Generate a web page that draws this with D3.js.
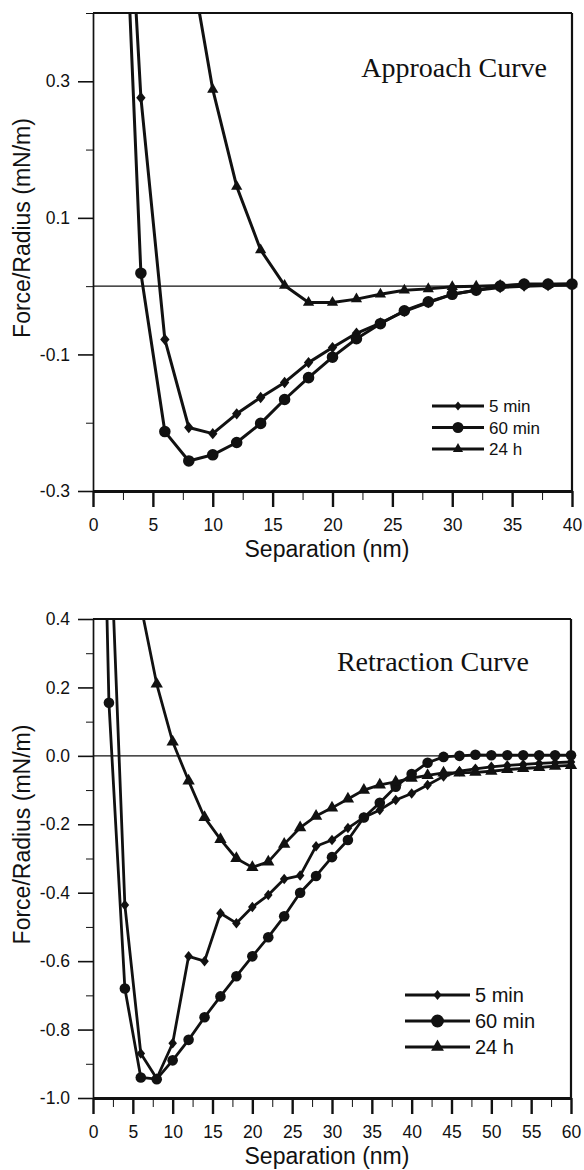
<!DOCTYPE html>
<html>
<head>
<meta charset="utf-8">
<script src="https://cdn.jsdelivr.net/npm/d3@7"></script>
<style>
    body { margin: 0; background: #fff; }
    svg text { font-family: "Liberation Sans", Arial, Helvetica, sans-serif; fill: #111; }
    .title { font-family: "Liberation Serif", "Times New Roman", serif !important; }
</style>
</head>
<body>
<div id="chart"></div>
<script>
// ---- approach curve (top panel) ----
var approachX5 = [2, 4, 6, 8, 10, 12, 14, 16, 18, 20, 22, 24, 26, 28, 30, 32, 34, 36, 38, 40];
var approach5min = [0.9, 0.276, -0.078, -0.207, -0.216, -0.187, -0.163, -0.141, -0.112, -0.090,
    -0.069, -0.054, -0.037, -0.024, -0.012, -0.006, -0.002, 0.000, 0.001, 0.002];
var approach60min = [0.85, 0.019, -0.213, -0.256, -0.247, -0.229, -0.201, -0.166, -0.134, -0.104,
    -0.077, -0.055, -0.036, -0.023, -0.012, -0.006, 0.000, 0.003, 0.003, 0.003];
var approachX24 = [8, 10, 12, 14, 16, 18, 20, 22, 24, 26, 28, 30, 32, 34, 36, 38, 40];
var approach24h = [0.49, 0.288, 0.146, 0.053, 0.001, -0.024, -0.024, -0.019, -0.012, -0.006,
    -0.004, -0.001, 0.000, 0.001, 0.002, 0.002, 0.003];
var approachXMajor = [0, 5, 10, 15, 20, 25, 30, 35, 40];
var approachXMinor = [2.5, 7.5, 12.5, 17.5, 22.5, 27.5, 32.5, 37.5];
var approachYMajor = [0.3, 0.1, -0.1, -0.3];
var approachYMinor = [0.4, 0.2, 0.0, -0.2];

// ---- retraction curve (bottom panel) ----
var retractX5 = [2, 4, 6, 8, 10, 12, 14, 16, 18, 20, 22, 24, 26, 28, 30, 32, 34, 36, 38, 40,
    42, 44, 46, 48, 50, 52, 54, 56, 58, 60];
var retract5min = [0.76, -0.436, -0.870, -0.943, -0.840, -0.586, -0.600, -0.460, -0.489, -0.442,
    -0.407, -0.360, -0.350, -0.264, -0.246, -0.211, -0.180, -0.158, -0.129, -0.110,
    -0.085, -0.060, -0.045, -0.038, -0.032, -0.028, -0.025, -0.022, -0.020, -0.018];
var retractX60 = [0, 2, 4, 6, 8, 10, 12, 14, 16, 18, 20, 22, 24, 26, 28, 30, 32, 34, 36, 38, 40,
    42, 44, 46, 48, 50, 52, 54, 56, 58, 60];
var retract60min = [2.2, 0.155, -0.680, -0.940, -0.945, -0.890, -0.830, -0.764, -0.703, -0.644, -0.586,
    -0.530, -0.469, -0.400, -0.351, -0.296, -0.246, -0.180, -0.137, -0.090, -0.053,
    -0.020, -0.003, 0.000, 0.003, 0.002, 0.002, 0.002, 0.002, 0.002, 0.002];
var retractX24 = [6, 8, 10, 12, 14, 16, 18, 20, 22, 24, 26, 28, 30, 32, 34, 36, 38, 40,
    42, 44, 46, 48, 50, 52, 54, 56, 58, 60];
var retract24h = [0.44, 0.21, 0.041, -0.073, -0.180, -0.244, -0.300, -0.326, -0.310, -0.258,
    -0.210, -0.176, -0.152, -0.126, -0.100, -0.085, -0.076, -0.065,
    -0.057, -0.050, -0.050, -0.048, -0.045, -0.040, -0.037, -0.034, -0.030, -0.028];
var retractXMajor = [0, 5, 10, 15, 20, 25, 30, 35, 40, 45, 50, 55, 60];
var retractXMinor = [2.5, 7.5, 12.5, 17.5, 22.5, 27.5, 32.5, 37.5, 42.5, 47.5, 52.5, 57.5];
var retractYMajor = [0.4, 0.2, 0.0, -0.2, -0.4, -0.6, -0.8, -1.0];
var retractYMinor = [0.3, 0.1, -0.1, -0.3, -0.5, -0.7, -0.9];

var seriesNames = ['5 min', '60 min', '24 h'];

// rhombus a bit narrower than tall, like the printed markers
var symbolRhombus = {
    draw: function(context, size) {
        var h = Math.sqrt(size) / 2;
        var w = h * 0.82;
        context.moveTo(0, -h);
        context.lineTo(w, 0);
        context.lineTo(0, h);
        context.lineTo(-w, 0);
        context.closePath();
    }
};

var svg = d3.select('#chart')
    .append('svg')
    .attr('width', 584)
    .attr('height', 1170);

function zip(xs, ys) {
    return xs.map(function(x, i) {
        return { x: x, y: ys[i] };
    });
}

function fmt(v) {
    var s = Math.abs(v).toFixed(1);
    return (v < -1e-9 ? '-' : '') + s;
}

function drawPanel(config) {
    var left = config.left, top = config.top, width = config.width, height = config.height;
    var g = svg.append('g').attr('transform', 'translate(' + left + ',' + top + ')');

    var x = d3.scaleLinear().domain(config.xDomain).range([0, width]);
    var y = d3.scaleLinear().domain(config.yDomain).range([height, 0]);

    var clipId = config.id + '-clip';
    svg.append('clipPath').attr('id', clipId)
        .append('rect')
        .attr('x', -12).attr('y', 0)
        .attr('width', width + 24).attr('height', height + 12);

    // zero line
    g.append('line')
        .attr('x1', 0).attr('x2', width)
        .attr('y1', y(0)).attr('y2', y(0))
        .attr('stroke', '#111').attr('stroke-width', 1.3);

    // frame top + right
    g.append('line')
        .attr('x1', 0).attr('x2', width).attr('y1', 0).attr('y2', 0)
        .attr('stroke', '#111').attr('stroke-width', 2.2);
    g.append('line')
        .attr('x1', width).attr('x2', width).attr('y1', 0).attr('y2', height)
        .attr('stroke', '#111').attr('stroke-width', 2.2);

    // x axis, major + minor
    var xAxis = g.append('g')
        .attr('transform', 'translate(0,' + height + ')')
        .call(d3.axisBottom(x).tickValues(config.xMajor).tickSize(16).tickSizeOuter(0)
            .tickPadding(12).tickFormat(d3.format('d')));
    g.append('g')
        .attr('transform', 'translate(0,' + height + ')')
        .call(d3.axisBottom(x).tickValues(config.xMinor).tickSize(9).tickSizeOuter(0).tickFormat(''))
        .select('.domain').remove();
    xAxis.select('.domain').attr('stroke-width', 2.8).attr('stroke', '#111');
    xAxis.selectAll('.tick line').attr('stroke-width', 2.4);

    // y axis, major + minor
    var yAxis = g.append('g')
        .call(d3.axisLeft(y).tickValues(config.yMajor).tickSize(15).tickSizeOuter(0)
            .tickPadding(8).tickFormat(fmt));
    g.append('g')
        .call(d3.axisLeft(y).tickValues(config.yMinor).tickSize(7).tickSizeOuter(0).tickFormat(''))
        .select('.domain').remove();
    yAxis.select('.domain').attr('stroke-width', 1.7).attr('stroke', '#111');
    yAxis.selectAll('.tick line').attr('stroke-width', 1.6);

    g.selectAll('.tick line').attr('stroke', '#111');
    g.selectAll('.tick text')
        .attr('fill', '#111')
        .style('font-size', '17.5px')
        .style('font-family', '"Liberation Sans", Arial, sans-serif');

    // axis titles
    g.append('text')
        .attr('x', config.xTitleX).attr('y', height + 66)
        .attr('text-anchor', 'middle')
        .style('font-size', '23px')
        .text('Separation (nm)');
    g.append('text')
        .attr('transform', 'translate(' + (22 - left) + ',' + (height / 2 - 24) + ') rotate(-90)')
        .attr('text-anchor', 'middle')
        .attr('dy', '0.35em')
        .style('font-size', '23px')
        .text('Force/Radius (mN/m)');

    // panel title
    g.append('text')
        .attr('class', 'title')
        .attr('x', config.titleX - left).attr('y', config.titleY - top)
        .attr('text-anchor', 'end')
        .style('font-size', '28px')
        .text(config.title);

    // curves
    var line = d3.line()
        .x(function(d) { return x(d.x); })
        .y(function(d) { return y(d.y); });

    var plot = g.append('g').attr('clip-path', 'url(#' + clipId + ')');
    config.series.forEach(function(s) {
        plot.append('path')
            .datum(s.points)
            .attr('d', line)
            .attr('fill', 'none')
            .attr('stroke', '#111')
            .attr('stroke-width', config.lineWidth)
            .attr('stroke-linejoin', 'round');
        plot.selectAll(null)
            .data(s.points)
            .enter()
            .append('path')
            .attr('transform', function(d) {
                return 'translate(' + x(d.x) + ',' + y(d.y) + ')';
            })
            .attr('d', d3.symbol().type(s.symbol).size(s.size))
            .attr('fill', '#111');
    });

    // legend
    var lg = config.legend;
    config.series.forEach(function(s, i) {
        var yy = lg.y + i * lg.step - top;
        g.append('line')
            .attr('x1', lg.x1 - left).attr('x2', lg.x2 - left)
            .attr('y1', yy).attr('y2', yy)
            .attr('stroke', '#111').attr('stroke-width', 3);
        g.append('path')
            .attr('transform', 'translate(' + ((lg.x1 + lg.x2) / 2 - left) + ',' + yy + ')')
            .attr('d', d3.symbol().type(s.symbol).size(lg.sizes[i]))
            .attr('fill', '#111');
        g.append('text')
            .attr('x', lg.x2 + 5 - left).attr('y', yy)
            .attr('dy', '0.36em')
            .style('font-size', lg.fontSize)
            .text(seriesNames[i]);
    });
}

drawPanel({
    id: 'approach',
    left: 93, top: 13, width: 479, height: 478,
    xDomain: [0, 40], yDomain: [-0.3, 0.4],
    xMajor: approachXMajor, xMinor: approachXMinor,
    yMajor: approachYMajor, yMinor: approachYMinor,
    xTitleX: 234,
    title: 'Approach Curve', titleX: 547, titleY: 77,
    lineWidth: 3,
    series: [
        { points: zip(approachX5, approach5min), symbol: symbolRhombus, size: 130 },
        { points: zip(approachX5, approach60min), symbol: d3.symbolCircle, size: 105 },
        { points: zip(approachX24, approach24h), symbol: d3.symbolTriangle, size: 55 }
    ],
    legend: { x1: 432, x2: 484, y: 406, step: 21.5, sizes: [81, 95, 45], fontSize: '17px' }
});

drawPanel({
    id: 'retract',
    left: 93, top: 619, width: 478, height: 479,
    xDomain: [0, 60], yDomain: [-1.0, 0.4],
    xMajor: retractXMajor, xMinor: retractXMinor,
    yMajor: retractYMajor, yMinor: retractYMinor,
    xTitleX: 234,
    title: 'Retraction Curve', titleX: 529, titleY: 671,
    lineWidth: 2.8,
    series: [
        { points: zip(retractX5, retract5min), symbol: symbolRhombus, size: 110 },
        { points: zip(retractX60, retract60min), symbol: d3.symbolCircle, size: 88 },
        { points: zip(retractX24, retract24h), symbol: d3.symbolTriangle, size: 66 }
    ],
    legend: { x1: 405, x2: 470, y: 995, step: 26, sizes: [100, 130, 72], fontSize: '20px' }
});
</script>
</body>
</html>
